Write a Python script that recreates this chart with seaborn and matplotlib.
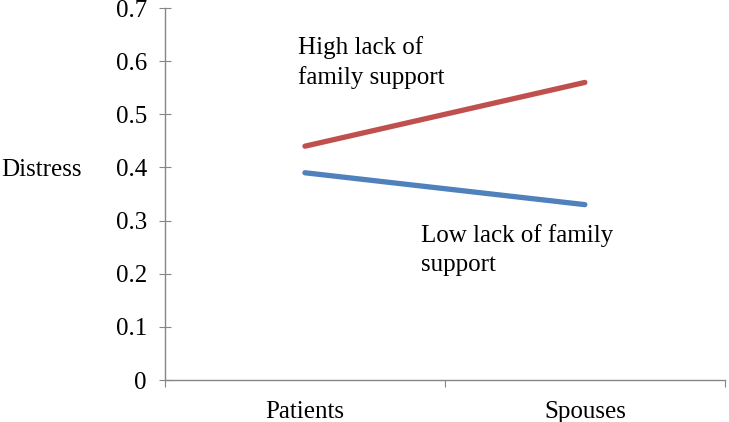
import numpy as np
import pandas as pd
import matplotlib
matplotlib.use("Agg")
import matplotlib.pyplot as plt
import seaborn as sns

groups = ["Patients", "Spouses"]
high_support_lack = [0.44, 0.56]
low_support_lack = [0.39, 0.33]
y_ticks = [0, 0.1, 0.2, 0.3, 0.4, 0.5, 0.6, 0.7]

pos = np.arange(len(groups)) + 0.5
df = pd.DataFrame({
    "pos": np.concatenate([pos, pos]),
    "distress": high_support_lack + low_support_lack,
    "level": ["High"] * len(groups) + ["Low"] * len(groups),
})

sns.set_style("white")
plt.rcParams["font.family"] = ["Liberation Serif", "DejaVu Serif"]
plt.rcParams["text.color"] = "black"
plt.rcParams["xtick.labelcolor"] = "black"
plt.rcParams["ytick.labelcolor"] = "black"
plt.rcParams["axes.labelcolor"] = "black"

fs = 18

fig = plt.figure(figsize=(7.29, 4.22), dpi=100)
ax = fig.add_axes([0.2263, 0.0995, 0.768, 0.8815])

sns.lineplot(data=df, x="pos", y="distress", hue="level",
             palette={"High": "#C0504D", "Low": "#4F81BD"},
             linewidth=3.8, legend=False, ax=ax)
for l in ax.lines:
    l.set_solid_capstyle("round")

ax.set_xlim(0, len(groups))
ax.set_ylim(0, 0.7)
ax.set_yticks(y_ticks)
ax.set_yticklabels(["0"] + [f"{v:.1f}" for v in y_ticks[1:]], fontsize=fs)
ax.set_xticks(np.arange(len(groups) + 1))
ax.set_xticklabels([])
ax.set_xticks(pos, minor=True)
ax.set_xticklabels(groups, minor=True, fontsize=fs)
ax.tick_params(axis="x", which="minor", length=0, pad=15)
ax.tick_params(axis="x", which="major", direction="out", length=5, color="#868686", bottom=True)
ax.tick_params(axis="y", direction="inout", length=8, color="#868686", pad=9, left=True)

for s in ["top", "right"]:
    ax.spines[s].set_visible(False)
for s in ["left", "bottom"]:
    ax.spines[s].set_color("#868686")
    ax.spines[s].set_linewidth(1)

ax.set_xlabel("")
ax.set_ylabel("Distress", rotation=0, fontsize=fs, ha="left", va="center")
ax.yaxis.set_label_coords(-0.293, 0.565)

ax.text(0.237, 0.925, "High lack of\nfamily support", fontsize=fs,
        transform=ax.transAxes, va="top", ha="left", linespacing=1.4)
ax.text(0.457, 0.42, "Low lack of family\nsupport", fontsize=fs,
        transform=ax.transAxes, va="top", ha="left", linespacing=1.4)

fig.savefig("out.png", dpi=100)
